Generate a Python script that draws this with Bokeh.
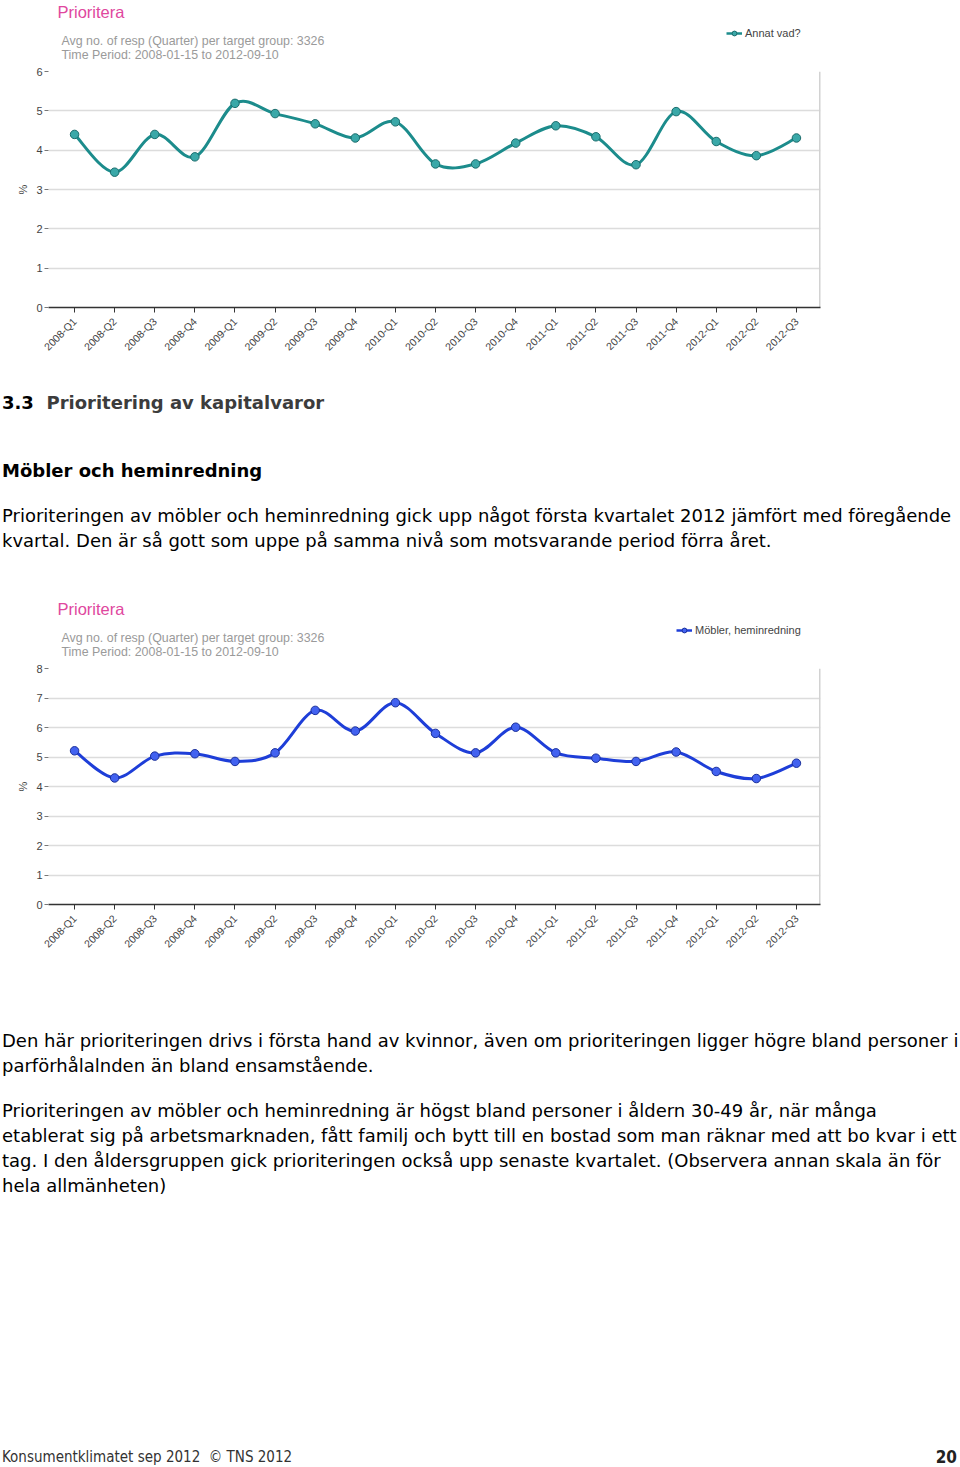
import numpy as np
from bokeh.plotting import figure
from bokeh.models import Range1d, FixedTicker, Label, Legend, LegendItem, Div
from bokeh.layouts import column
from bokeh.embed import file_html
from bokeh.resources import INLINE

# ---------------- data ----------------
quarters = ["2008-Q1", "2008-Q2", "2008-Q3", "2008-Q4",
            "2009-Q1", "2009-Q2", "2009-Q3", "2009-Q4",
            "2010-Q1", "2010-Q2", "2010-Q3", "2010-Q4",
            "2011-Q1", "2011-Q2", "2011-Q3", "2011-Q4",
            "2012-Q1", "2012-Q2", "2012-Q3"]
annat_vad = [4.40, 3.44, 4.40, 3.83, 5.19, 4.93, 4.67, 4.31, 4.72, 3.65,
             3.65, 4.18, 4.62, 4.34, 3.63, 4.98, 4.22, 3.86, 4.31]
mobler = [5.21, 4.29, 5.03, 5.11, 4.85, 5.14, 6.58, 5.88, 6.84, 5.80,
          5.14, 6.01, 5.14, 4.96, 4.85, 5.17, 4.51, 4.27, 4.79]
y_ticks_1 = [0, 1, 2, 3, 4, 5, 6]
y_ticks_2 = [0, 1, 2, 3, 4, 5, 6, 7, 8]
chart_title = "Prioritera"
subtitle_1 = "Avg no. of resp (Quarter) per target group: 3326"
subtitle_2 = "Time Period: 2008-01-15 to 2012-09-10"

CHART_FONT = "Liberation Sans"
X_START, X_END = -0.65, 18.6
LEFT, RIGHT = 48, 140          # borders around the plotting frame (px)
HEADER_H = 63                  # header strip height (px)
TOP_PAD = 8                    # space above the frame inside the chart figure


def smooth_segments(xs, ys):
    """Cubic Bezier segments (Catmull-Rom) passing through the data points."""
    xs = np.asarray(xs, float)
    ys = np.asarray(ys, float)
    n = len(xs)
    xp = np.concatenate([[xs[0]], xs, [xs[-1]]])
    yp = np.concatenate([[ys[0]], ys, [ys[-1]]])
    i = np.arange(n - 1) + 1
    return dict(
        x0=xp[i], y0=yp[i], x1=xp[i + 1], y1=yp[i + 1],
        cx0=xp[i] + (xp[i + 1] - xp[i - 1]) / 6.0,
        cy0=yp[i] + (yp[i + 1] - yp[i - 1]) / 6.0,
        cx1=xp[i + 1] - (xp[i + 2] - xp[i]) / 6.0,
        cy1=yp[i + 1] - (yp[i + 2] - yp[i]) / 6.0,
    )


def make_header(series_name, values, line_color, fill_color, edge_color, legend_x):
    # header strip: one data unit = one pixel of the page (y counted from top)
    h = figure(width=960, height=HEADER_H,
               x_range=Range1d(LEFT, 960 - RIGHT), y_range=Range1d(HEADER_H, 0),
               x_axis_type=None, y_axis_type=None,
               output_backend="svg", toolbar_location=None,
               min_border_left=LEFT, min_border_right=RIGHT,
               min_border_top=0, min_border_bottom=0,
               outline_line_color=None,
               background_fill_color="white", border_fill_color="white")
    h.title.visible = False
    h.xgrid.visible = False
    h.ygrid.visible = False
    h.add_layout(Label(x=57, y=11, text=chart_title, text_font=CHART_FONT,
                       text_font_size="16.5px", text_color="#e0479e",
                       text_baseline="middle"))
    h.add_layout(Label(x=61, y=40, text=subtitle_1, text_font=CHART_FONT,
                       text_font_size="12.4px", text_color="#9a9a9a",
                       text_baseline="middle"))
    h.add_layout(Label(x=61, y=54, text=subtitle_2, text_font=CHART_FONT,
                       text_font_size="12.4px", text_color="#9a9a9a",
                       text_baseline="middle"))
    # hidden proxies that only supply the legend's swatch
    ll = h.line(x=[0], y=[values[0]], line_color=line_color, line_width=2.5,
                visible=False)
    lm = h.scatter(x=[0], y=[values[0]], size=9, fill_color=fill_color,
                   line_color=edge_color, line_width=1, visible=False)
    legend = Legend(items=[LegendItem(label=series_name, renderers=[ll, lm])],
                    location=(legend_x - LEFT, HEADER_H - 39),
                    orientation="horizontal",
                    border_line_color=None, background_fill_alpha=0,
                    padding=0, margin=0, spacing=0,
                    glyph_width=16, glyph_height=12, label_height=12,
                    label_standoff=3, label_text_font=CHART_FONT,
                    label_text_font_size="11px", label_text_color="#444444")
    h.add_layout(legend)
    return h


def make_chart(values, y_ticks, line_color, fill_color, edge_color):
    xs = list(range(len(quarters)))
    y_max = y_ticks[-1]
    p = figure(width=960, height=236 + TOP_PAD + 63,
               x_range=Range1d(X_START, X_END), y_range=Range1d(0, y_max),
               output_backend="svg", toolbar_location=None,
               min_border_left=LEFT, min_border_right=RIGHT,
               min_border_top=TOP_PAD, min_border_bottom=63,
               outline_line_color=None,
               background_fill_color="white", border_fill_color="white")
    p.title.visible = False

    # axes
    p.xaxis.ticker = FixedTicker(ticks=xs)
    p.xaxis.major_label_overrides = {i: q for i, q in enumerate(quarters)}
    p.xaxis.major_label_orientation = np.pi / 4
    p.xaxis.major_label_text_font = CHART_FONT
    p.xaxis.major_label_text_font_size = "10.5px"
    p.xaxis.major_label_text_color = "#444444"
    p.xaxis.major_label_standoff = 7
    p.xaxis.axis_line_color = "#333333"
    p.xaxis.axis_line_width = 1.5
    p.xaxis.major_tick_line_color = "#333333"
    p.xaxis.major_tick_out = 5
    p.xaxis.major_tick_in = 0
    p.xaxis.minor_tick_line_color = None

    p.yaxis.ticker = FixedTicker(ticks=y_ticks)
    p.yaxis.axis_line_color = None
    p.yaxis.major_tick_line_color = "#777777"
    p.yaxis.major_tick_out = 4
    p.yaxis.major_tick_in = 0
    p.yaxis.minor_tick_line_color = None
    p.yaxis.major_label_text_font = CHART_FONT
    p.yaxis.major_label_text_font_size = "11px"
    p.yaxis.major_label_text_color = "#444444"
    p.yaxis.major_label_standoff = 2
    p.yaxis.axis_label = "%"
    p.yaxis.axis_label_text_font = CHART_FONT
    p.yaxis.axis_label_text_font_style = "normal"
    p.yaxis.axis_label_text_font_size = "11px"
    p.yaxis.axis_label_text_color = "#444444"
    p.yaxis.axis_label_standoff = 4

    p.xgrid.grid_line_color = None
    p.ygrid.ticker = FixedTicker(ticks=y_ticks)
    p.ygrid.grid_line_color = "#dcdcdc"
    p.ygrid.grid_line_width = 1.5

    # right-hand frame border
    p.segment(x0=[X_END], y0=[0], x1=[X_END], y1=[y_max],
              line_color="#d2d2d2", line_width=3)

    # smooth line + markers
    seg = smooth_segments(xs, values)
    p.bezier(x0=seg["x0"], y0=seg["y0"], x1=seg["x1"], y1=seg["y1"],
             cx0=seg["cx0"], cy0=seg["cy0"], cx1=seg["cx1"], cy1=seg["cy1"],
             line_color=line_color, line_width=3)
    p.scatter(xs, values, size=8.5, fill_color=fill_color,
              line_color=edge_color, line_width=1)
    return p


h1 = make_header("Annat vad?", annat_vad, "#1c8c8c", "#3aa8a8", "#1b6c6c", 726)
p1 = make_chart(annat_vad, y_ticks_1, "#1c8c8c", "#3aa8a8", "#1b6c6c")
h2 = make_header("Möbler, heminredning", mobler, "#1e3ed8", "#4262f0", "#1a2f9a", 676)
p2 = make_chart(mobler, y_ticks_2, "#1e3ed8", "#4262f0", "#1a2f9a")

BODY = "font-family:'DejaVu Sans',Verdana,sans-serif;font-size:18px;line-height:25px;color:#000;white-space:nowrap;"

html_a = f"""
<div style="{BODY}padding-left:2px;width:958px;">
<div style="height:20px"></div>
<div style="font-weight:bold;"><span style="color:#000">3.3</span>&nbsp;&nbsp;<span style="color:#3c3c3c">Prioritering av kapitalvaror</span></div>
<div style="height:43px"></div>
<div style="font-weight:bold;">Möbler och heminredning</div>
<div style="height:20px"></div>
<div>Prioriteringen av möbler och heminredning gick upp något första kvartalet 2012 jämfört med föregående<br>kvartal. Den är så gott som uppe på samma nivå som motsvarande period förra året.</div>
</div>
"""

html_b = f"""
<div style="{BODY}padding-left:2px;width:958px;">
<div style="height:60.5px"></div>
<div>Den här prioriteringen drivs i första hand av kvinnor, även om prioriteringen ligger högre bland personer i<br>parförhålalnden än bland ensamstående.</div>
<div style="height:20px"></div>
<div>Prioriteringen av möbler och heminredning är högst bland personer i åldern 30-49 år, när många<br>etablerat sig på arbetsmarknaden, fått familj och bytt till en bostad som man räknar med att bo kvar i ett<br>tag. I den åldersgruppen gick prioriteringen också upp senaste kvartalet. (Observera annan skala än för<br>hela allmänheten)</div>
<div style="height:249.5px"></div>
<div style="display:flex;justify-content:space-between;width:955px;line-height:20px;color:#333;">
<span style="font-family:'DejaVu Sans Condensed','Liberation Sans Narrow','DejaVu Sans',sans-serif;font-stretch:condensed;font-size:15px;">Konsumentklimatet sep 2012&nbsp;&nbsp;©&nbsp;TNS 2012</span>
<span style="font-family:'DejaVu Sans Condensed','DejaVu Sans',sans-serif;font-stretch:condensed;font-weight:bold;font-size:17px;color:#222;">20</span>
</div>
</div>
"""

div_a = Div(text=html_a, width=960, height=227, margin=0)
div_b = Div(text=html_b, width=960, height=500, margin=0)

page = column(h1, p1, div_a, h2, p2, div_b, spacing=0)

open("out.html", "w").write(file_html(page, INLINE))
